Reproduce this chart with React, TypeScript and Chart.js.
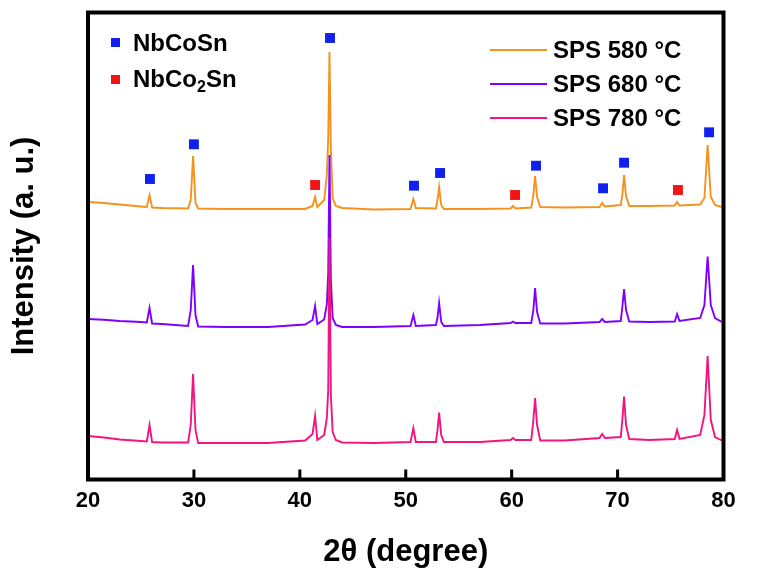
import React, { useEffect, useRef } from 'react';
import { Chart, registerables } from 'chart.js';

Chart.register(...registerables);

// ---------- data ----------
const TWO_THETA = [
  20, 21.5, 23, 25, 25.55, 25.81, 26.05, 27,
  29.45, 29.7, 29.92, 30.15, 30.4,
  33, 37, 40.5,
  41.2, 41.44, 41.65,
  42.3, 42.55, 42.68, 42.8, 42.93, 43.1, 43.4, 44,
  47,
  50.45, 50.72, 50.95,
  52.85, 53.0, 53.15, 53.35, 53.6,
  57,
  59.9, 60.13, 60.35,
  61.85, 62.05, 62.21, 62.4, 62.7,
  65,
  68.3, 68.54, 68.8,
  70.3, 70.45, 70.61, 70.8, 71.1,
  73,
  75.4, 75.62, 75.85,
  77.8, 78.2, 78.5, 78.8, 79.2, 79.85,
];

const SPS_580 = [
  2775, 2765, 2750, 2730, 2725, 2845, 2720, 2715,
  2710, 2795, 3235, 2765, 2710,
  2705, 2705, 2705,
  2735, 2825, 2725,
  2795, 3045, 3415, 4275, 3300, 2815, 2735, 2715,
  2700,
  2705, 2805, 2715,
  2710, 2795, 2925, 2745, 2705,
  2705,
  2710, 2735, 2710,
  2720, 2845, 3035, 2825, 2725,
  2720,
  2725, 2765, 2730,
  2745, 2845, 3045, 2835, 2735,
  2735,
  2740, 2775, 2740,
  2750, 2815, 3345, 2825, 2745, 2725,
];

const SPS_680 = [
  1605, 1598, 1585, 1575, 1570, 1715, 1560, 1555,
  1535, 1695, 2145, 1645, 1530,
  1525, 1525, 1550,
  1595, 1735, 1555,
  1600, 1750, 2065, 3245, 1995, 1615, 1545, 1525,
  1525,
  1535, 1645, 1535,
  1545, 1620, 1765, 1575, 1535,
  1545,
  1565, 1580, 1565,
  1565, 1695, 1915, 1675, 1560,
  1560,
  1575, 1605, 1575,
  1585, 1725, 1905, 1695, 1580,
  1575,
  1580, 1655, 1585,
  1615, 1745, 2230, 1745, 1615, 1575,
];

const SPS_780 = [
  435, 420, 400, 385, 380, 545, 375, 370,
  370, 545, 1055, 495, 365,
  365, 365, 390,
  455, 635, 395,
  445, 615, 895, 2415, 845, 475, 395, 370,
  365,
  375, 515, 375,
  375, 495, 670, 445, 375,
  375,
  395, 415, 395,
  395, 595, 815, 545, 390,
  390,
  415, 455, 415,
  425, 595, 830, 545, 405,
  395,
  405, 495, 405,
  445, 645, 1235, 595, 425, 390,
];

const NBCOSN_2THETA = [25.85, 30.0, 42.85, 50.78, 53.24, 62.3, 68.63, 70.61, 78.64];
const NBCOSN_MARK = [3005, 3352, 4415, 2938, 3065, 3138, 2912, 3168, 3472];
const NBCO2SN_2THETA = [41.44, 60.32, 75.7];
const NBCO2SN_MARK = [2945, 2845, 2895];

const X_TICKS = [20, 30, 40, 50, 60, 70, 80];
const SERIES_LABELS = ['SPS 580 \u00B0C', 'SPS 680 \u00B0C', 'SPS 780 \u00B0C'];

// ---------- styles ----------
const W = 758;
const H = 578;
const FONT = '"Liberation Sans", Arial, Helvetica, sans-serif';
const COLORS = ['#F5921E', '#7F00FF', '#F2157F'];
const BLUE = '#1020EE';
const RED = '#F01414';

const toXY = (xs: number[], ys: number[]) => xs.map((x, i) => ({ x, y: ys[i] }));

export default function App() {
  const ref = useRef<HTMLCanvasElement | null>(null);

  useEffect(() => {
    if (!ref.current) return;

    const framePlugin = {
      id: 'frame',
      afterDraw(chart: any) {
        const { ctx, chartArea } = chart;
        const { left, top, right, bottom } = chartArea;
        ctx.save();
        ctx.strokeStyle = '#000';
        ctx.lineWidth = 3;
        const xs = chart.scales.x;
        X_TICKS.slice(1, -1).forEach((v) => {
          const px = xs.getPixelForValue(v);
          ctx.beginPath();
          ctx.moveTo(px, bottom);
          ctx.lineTo(px, bottom - 10);
          ctx.stroke();
        });
        ctx.lineWidth = 4;
        ctx.strokeRect(left, top, right - left, bottom - top);
        ctx.restore();
      },
    };

    const lineDs = (label: string, ys: number[], color: string, order: number) => ({
      type: 'line' as const,
      label,
      data: toXY(TWO_THETA, ys),
      borderColor: color,
      backgroundColor: color,
      borderWidth: 1.9,
      pointRadius: 0,
      tension: 0,
      fill: false,
      order,
    });

    const chart = new Chart(ref.current, {
      type: 'line',
      data: {
        datasets: [
          lineDs(SERIES_LABELS[0], SPS_580, COLORS[0], 3),
          lineDs(SERIES_LABELS[1], SPS_680, COLORS[1], 2),
          lineDs(SERIES_LABELS[2], SPS_780, COLORS[2], 1),
          {
            type: 'scatter' as const,
            label: 'NbCoSn',
            data: toXY(NBCOSN_2THETA, NBCOSN_MARK),
            pointStyle: 'rect',
            pointRadius: 7,
            pointBorderWidth: 0,
            backgroundColor: BLUE,
            borderColor: BLUE,
            showLine: false,
            order: 0,
            clip: false,
          } as any,
          {
            type: 'scatter' as const,
            label: 'NbCo2Sn',
            data: toXY(NBCO2SN_2THETA, NBCO2SN_MARK),
            pointStyle: 'rect',
            pointRadius: 7,
            pointBorderWidth: 0,
            backgroundColor: RED,
            borderColor: RED,
            showLine: false,
            order: 0,
            clip: false,
          } as any,
        ],
      },
      options: {
        responsive: false,
        animation: false,
        devicePixelRatio: 1,
        layout: { padding: { top: 12.5, right: 34.5, bottom: 0, left: 0 } },
        plugins: { legend: { display: false }, tooltip: { enabled: false } },
        scales: {
          x: {
            type: 'linear',
            min: 20,
            max: 80,
            afterFit: (s: any) => { s.height = 98.5; },
            afterBuildTicks: (s: any) => { s.ticks = X_TICKS.map((v) => ({ value: v })); },
            grid: { display: false, drawTicks: false },
            border: { display: false },
            ticks: {
              color: '#000',
              padding: 8,
              font: { family: FONT, size: 22, weight: 'bold' },
            },
            title: {
              display: true,
              text: '2\u03B8 (degree)',
              color: '#000',
              font: { family: FONT, size: 31, weight: 'bold' },
              padding: { top: 0, bottom: 7 },
            },
          },
          y: {
            type: 'linear',
            min: 0,
            max: 4670,
            afterFit: (s: any) => { s.width = 88; },
            grid: { display: false, drawTicks: false },
            border: { display: false },
            ticks: { display: false },
            title: {
              display: true,
              text: 'Intensity (a. u.)',
              color: '#000',
              font: { family: FONT, size: 31, weight: 'bold' },
              padding: { top: 6, bottom: 0 },
            },
          },
        },
      },
      plugins: [framePlugin],
    } as any);

    return () => chart.destroy();
  }, []);

  const textStyle: React.CSSProperties = {
    position: 'absolute',
    fontFamily: FONT,
    fontWeight: 'bold',
    fontSize: 24,
    lineHeight: '28px',
    height: 28,
    color: '#000',
    whiteSpace: 'nowrap',
  };

  const rowCenters = [49.5, 84, 118];
  const markCenters = [42.5, 79];

  return (
    <div style={{ position: 'fixed', left: 0, top: 0, width: W, height: H, background: '#fff' }}>
      <canvas ref={ref} width={W} height={H} style={{ position: 'absolute', left: 0, top: 0 }} />
      {SERIES_LABELS.map((lab, i) => (
        <React.Fragment key={lab}>
          <div
            style={{
              position: 'absolute',
              left: 490,
              top: rowCenters[i] - 1,
              width: 57,
              height: 2,
              background: COLORS[i],
            }}
          />
          <div style={{ ...textStyle, left: 553, top: rowCenters[i] - 14 }}>{lab}</div>
        </React.Fragment>
      ))}
      <div style={{ position: 'absolute', left: 110.5, top: markCenters[0] - 4.5, width: 9, height: 9, background: BLUE }} />
      <div style={{ ...textStyle, left: 133, top: markCenters[0] - 14 }}>NbCoSn</div>
      <div style={{ position: 'absolute', left: 110.5, top: markCenters[1] - 4.5, width: 9, height: 9, background: RED }} />
      <div style={{ ...textStyle, left: 133, top: markCenters[1] - 14 }}>
        NbCo<sub style={{ fontSize: 16, lineHeight: 0, verticalAlign: '-5px' }}>2</sub>Sn
      </div>
    </div>
  );
}
